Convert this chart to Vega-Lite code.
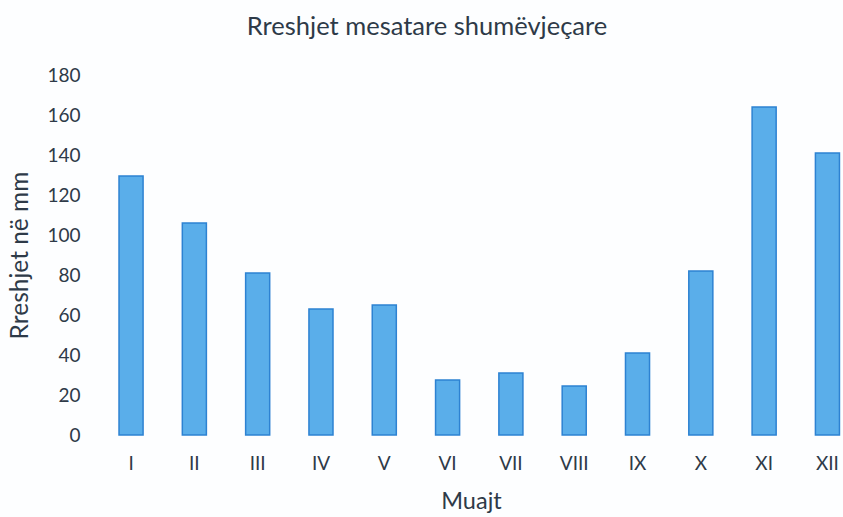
{
  "$schema": "https://vega.github.io/schema/vega-lite/v6.json",
  "width": 744,
  "height": 360,
  "autosize": "none",
  "padding": {"left": 99, "top": 75, "right": 0, "bottom": 82},
  "background": "#fdfeff",
  "title": {
    "text": "Rreshjet mesatare shumëvjeçare",
    "font": "Lato",
    "fontSize": 25.5,
    "fontWeight": "normal",
    "color": "#2e3a48",
    "anchor": "middle",
    "dx": -44,
    "offset": 26
  },
  "data": {
    "values": [
      {"muaji": "I", "rreshje": 129.5},
      {"muaji": "II", "rreshje": 106},
      {"muaji": "III", "rreshje": 81},
      {"muaji": "IV", "rreshje": 63},
      {"muaji": "V", "rreshje": 65},
      {"muaji": "VI", "rreshje": 27.5},
      {"muaji": "VII", "rreshje": 31},
      {"muaji": "VIII", "rreshje": 24.5},
      {"muaji": "IX", "rreshje": 41},
      {"muaji": "X", "rreshje": 82},
      {"muaji": "XI", "rreshje": 164},
      {"muaji": "XII", "rreshje": 141}
    ]
  },
  "mark": {"type": "bar", "fill": "#5aaeea", "stroke": "#2d82d2", "strokeWidth": 1.5},
  "encoding": {
    "x": {
      "field": "muaji",
      "type": "nominal",
      "sort": null,
      "scale": {"paddingInner": 0.62, "paddingOuter": 0.186, "align": 0.85},
      "axis": {
        "title": "Muajt",
        "titleFont": "Lato",
        "titleFontSize": 23.5,
        "titleFontWeight": "normal",
        "titleColor": "#2e3a48",
        "titlePadding": 16,
        "labelFont": "Lato",
        "labelFontSize": 19,
        "labelColor": "#2e3a48",
        "labelAngle": 0,
        "labelPadding": 19,
        "domain": false,
        "ticks": false
      }
    },
    "y": {
      "field": "rreshje",
      "type": "quantitative",
      "scale": {"domain": [0, 180]},
      "axis": {
        "title": "Rreshjet në mm",
        "titleFont": "Lato",
        "titleFontSize": 24.5,
        "titleFontWeight": "normal",
        "titleColor": "#2e3a48",
        "titlePadding": 14,
        "labelFont": "Lato",
        "labelFontSize": 19,
        "labelColor": "#2e3a48",
        "labelPadding": 19,
        "values": [0, 20, 40, 60, 80, 100, 120, 140, 160, 180],
        "grid": false,
        "domain": false,
        "ticks": false
      }
    }
  },
  "config": {"view": {"stroke": null}}
}
